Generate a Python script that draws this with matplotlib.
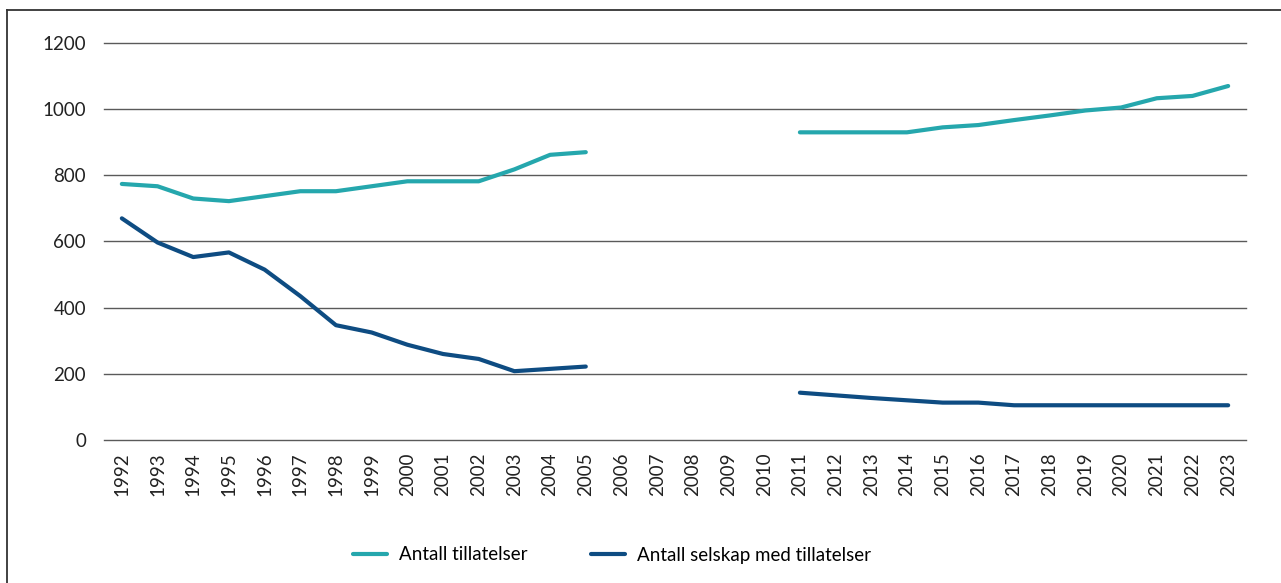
import matplotlib
matplotlib.use("Agg")
import matplotlib.pyplot as plt
from matplotlib.lines import Line2D
import numpy as np

plt.rcParams["font.family"] = ["Lato", "DejaVu Sans"]
plt.rcParams["font.size"] = 13.5

# data
years = [str(y) for y in range(1992, 2024)]
tillatelser = [774, 767, 730, 722, 737, 752, 752, 767, 782, 782, 782, 818, 862, 870,
               np.nan, np.nan, np.nan, np.nan, np.nan,
               930, 930, 930, 930, 945, 952, 967, 981, 996, 1005, 1033, 1040, 1070]
selskap = [670, 597, 553, 567, 515, 435, 347, 325, 288, 260, 245, 208, 215, 222,
           np.nan, np.nan, np.nan, np.nan, np.nan,
           143, 135, 127, 120, 113, 113, 105, 105, 105, 105, 105, 105, 105]
labels = ["Antall tillatelser", "Antall selskap med tillatelser"]
colors = ["#25a7ad", "#0e4c82"]

W, H = 1281, 583
fig = plt.figure(figsize=(W / 100, H / 100), dpi=100)
ax = fig.add_axes([104 / W, 1 - 440 / H, (1246 - 104) / W, (440 - 43) / H])

x = np.arange(len(years))
ax.plot(x, tillatelser, color=colors[0], lw=3, solid_capstyle="round", label=labels[0])
ax.plot(x, selskap, color=colors[1], lw=3, solid_capstyle="round", label=labels[1])

ax.set_xlim(-0.5, len(years) - 0.5)
ax.set_ylim(0, 1200)
ax.set_yticks(range(0, 1201, 200))
ax.set_xticks(x)
ax.set_xticklabels(years, rotation=90)
ax.tick_params(axis="both", length=0, colors="#222222", labelsize=13.5)
ax.tick_params(axis="x", pad=9)
ax.tick_params(axis="y", pad=13)
ax.grid(axis="y", color="#5a5a5a", lw=1.0)
for gl in ax.get_ygridlines():
    gl.set_clip_on(False)
ax.set_axisbelow(True)
for s in ax.spines.values():
    s.set_visible(False)

fig.legend(loc="center left", bbox_to_anchor=(353 / W, 1 - 555 / H), ncol=2, frameon=False,
           borderpad=0, borderaxespad=0,
           handlelength=1.8, handletextpad=0.65, columnspacing=3.4, fontsize=13.5)

# outer frame (left and top edges)
fx, fy = 6.5 / W, 1 - 9.5 / H
fig.add_artist(Line2D([fx, fx], [0, fy], transform=fig.transFigure, color="#333333", lw=1.3))
fig.add_artist(Line2D([fx, 1], [fy, fy], transform=fig.transFigure, color="#333333", lw=1.3))

fig.savefig("out.png", dpi=100)
